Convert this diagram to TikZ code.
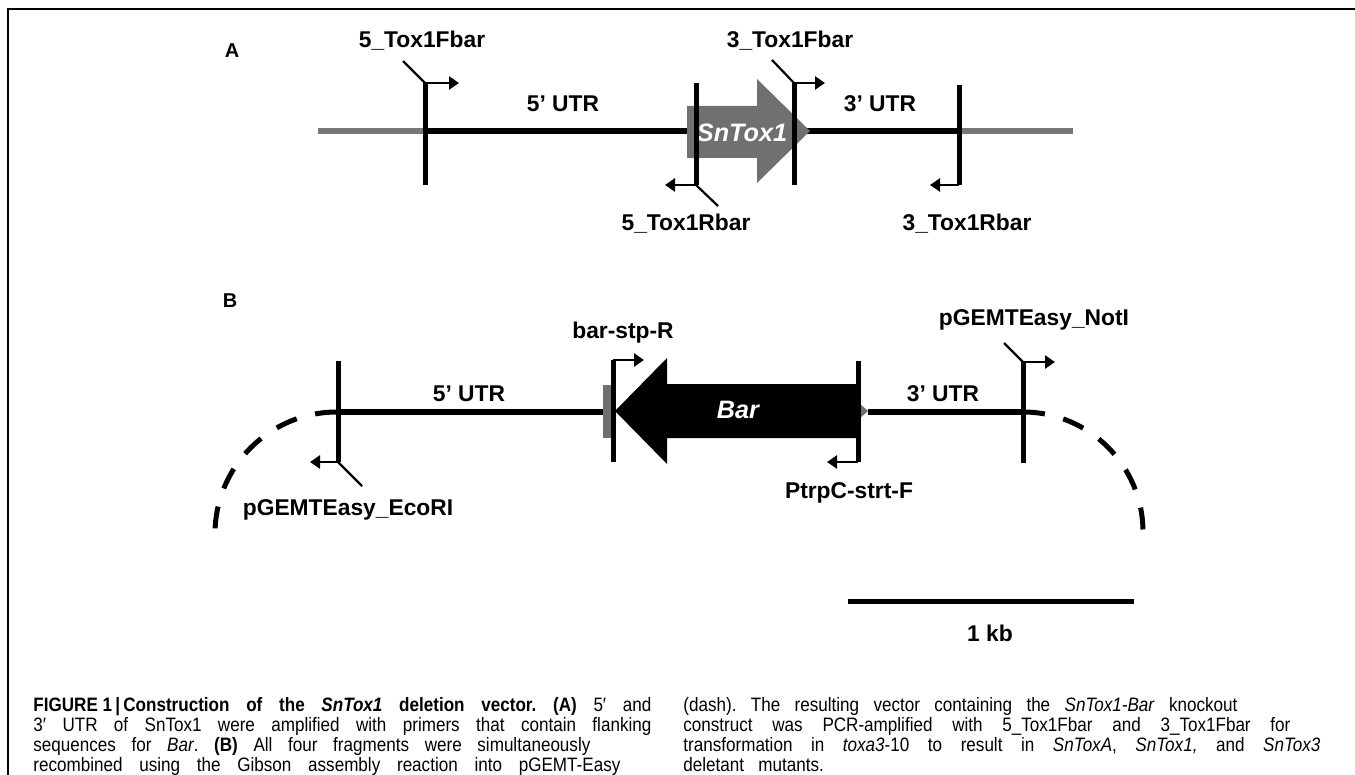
\documentclass[tikz,border=0pt]{standalone}
\usepackage{fontspec}
\setmainfont{Liberation Sans}
\newfontfamily\capfont[FakeStretch=0.88]{Liberation Sans}
\usetikzlibrary{arrows.meta}
\definecolor{geneGray}{RGB}{112,112,112}
\definecolor{flankGray}{RGB}{120,120,120}
\tikzset{
  mainline/.style={line width=2.6pt},
  tickline/.style={line width=2.5pt},
  primarrow/.style={line width=1.4pt,-{Triangle[length=5pt,width=6.5pt]}},
  tailline/.style={line width=1.1pt},
  lbl/.style={font=\bfseries\fontsize{11.4}{13}\selectfont, inner sep=0pt, anchor=base},
  panel/.style={font=\bfseries\fontsize{10}{12}\selectfont, inner sep=0pt, anchor=base},
  genelbl/.style={font=\bfseries\itshape\fontsize{12.6}{14}\selectfont, text=white, inner sep=0pt, anchor=base},
  capline/.style={anchor=base west, inner sep=0pt, font=\capfont\frenchspacing\fontsize{9.7}{12}\selectfont},
  plasmid/.style={line width=2.5pt, dash pattern=on 11pt off 9.5pt},
}
\begin{document}
\begin{tikzpicture}[x=0.5pt,y=-0.5pt]
\useasboundingbox (0,0) rectangle (1355,775);
% frame
\draw[line width=1.1pt] (8,780) -- (8,9) -- (1360,9);

% ================= Panel A =================
\node[panel] (pA) at (232,58) {A};
\coordinate (aL) at (318,131);
\coordinate (a5) at (425,131);
\coordinate (aG) at (687,131);
\coordinate (aGe) at (795,131);
\coordinate (a3) at (959,131);
\coordinate (aR) at (1073,131);
\draw[mainline, flankGray] (aL) -- (a5);
\draw[mainline, flankGray] (a3) -- (aR);
\draw[mainline] (a5) -- (aG);
\draw[mainline] (aGe) -- (a3);
% SnTox1 gene arrow
\fill[geneGray] (687,106) -- (757,106) -- (757,79) -- (810,131) -- (757,183) -- (757,158) -- (687,158) -- cycle;
\node[genelbl] (snt) at (742,142) {SnTox1};
% 5_Tox1Fbar
\coordinate (p1b) at (425,185);
\coordinate (p1t) at (425,83);
\coordinate (p1a) at (459,83);
\coordinate (p1d) at (403,61);
\draw[tickline] (p1b) -- (p1t);
\draw[primarrow] (p1t) -- (p1a);
\draw[tailline] (p1t) -- (p1d);
% 5_Tox1Rbar
\coordinate (p2t) at (696,83);
\coordinate (p2b) at (696,185);
\coordinate (p2a) at (665,185);
\coordinate (p2d) at (718,206);
\draw[tickline] (p2t) -- (p2b);
\draw[primarrow] (p2b) -- (p2a);
\draw[tailline] (p2b) -- (p2d);
% 3_Tox1Fbar
\coordinate (p3b) at (794,185);
\coordinate (p3t) at (794,83);
\coordinate (p3a) at (825,83);
\coordinate (p3d) at (772,60);
\draw[tickline] (p3b) -- (p3t);
\draw[primarrow] (p3t) -- (p3a);
\draw[tailline] (p3t) -- (p3d);
% 3_Tox1Rbar
\coordinate (p4t) at (959,85);
\coordinate (p4b) at (959,185);
\coordinate (p4a) at (930,185);
\draw[tickline] (p4t) -- (p4b);
\draw[primarrow] (p4b) -- (p4a);
% labels A
\node[lbl] (l5F) at (422,48) {5\_Tox1Fbar};
\node[lbl] (l3F) at (790,48) {3\_Tox1Fbar};
\node[lbl] (l5R) at (686,231) {5\_Tox1Rbar};
\node[lbl] (l3R) at (967,231) {3\_Tox1Rbar};
\node[lbl] (uA5) at (563,112) {5’ UTR};
\node[lbl] (uA3) at (880,112) {3’ UTR};

% ================= Panel B =================
\node[panel] (pB) at (230,307) {B};
\coordinate (bL) at (337,412);
\coordinate (bG) at (605,412);
\coordinate (bGe) at (868,412);
\coordinate (bR) at (1023,412);
\draw[mainline] (bL) -- (bG);
\draw[mainline] (bGe) -- (bR);
\draw[plasmid] (bL) arc[start angle=270, end angle=180, radius=122];
\draw[plasmid] (bR) arc[start angle=270, end angle=360, radius=120];
% grey terminator block and promoter tip
\fill[geneGray] (603,385) rectangle (611,438);
\fill[geneGray] (859,403) -- (868,411) -- (859,419) -- cycle;
% Bar arrow
\fill[black] (615,411) -- (667,358) -- (667,384) -- (859,384) -- (859,438) -- (667,438) -- (667,464) -- cycle;
\node[genelbl] (bar) at (738,418) {Bar};
% pGEMTEasy_EcoRI
\coordinate (q1t) at (338,361);
\coordinate (q1b) at (338,462);
\coordinate (q1a) at (310,462);
\coordinate (q1d) at (362,486);
\draw[tickline] (q1t) -- (q1b);
\draw[primarrow] (q1b) -- (q1a);
\draw[tailline] (q1b) -- (q1d);
% bar-stp-R
\coordinate (q2b) at (613,462);
\coordinate (q2t) at (613,360);
\coordinate (q2a) at (644,360);
\draw[tickline] (q2b) -- (q2t);
\draw[primarrow] (q2t) -- (q2a);
% PtrpC-strt-F
\coordinate (q3t) at (858,361);
\coordinate (q3b) at (858,462);
\coordinate (q3a) at (827,462);
\draw[tickline] (q3t) -- (q3b);
\draw[primarrow] (q3b) -- (q3a);
% pGEMTEasy_NotI
\coordinate (q4b) at (1023,463);
\coordinate (q4t) at (1023,362);
\coordinate (q4a) at (1055,362);
\coordinate (q4d) at (1004,343);
\draw[tickline] (q4b) -- (q4t);
\draw[primarrow] (q4t) -- (q4a);
\draw[tailline] (q4t) -- (q4d);
% labels B
\node[lbl] (lEco) at (348,515) {pGEMTEasy\_EcoRI};
\node[lbl] (lbsr) at (623,338) {bar-stp-R};
\node[lbl] (lptr) at (849,498) {PtrpC-strt-F};
\node[lbl] (lNot) at (1034,326) {pGEMTEasy\_NotI};
\node[lbl] (uB5) at (469,401) {5’ UTR};
\node[lbl] (uB3) at (943,401) {3’ UTR};

% scale bar
\coordinate (s1) at (848,601);
\coordinate (s2) at (1134,601);
\draw[line width=2.5pt] (s1) -- (s2);
\node[lbl] (kb) at (990,641) {1 kb};

% ================= Caption =================
\node[capline] (c1) at (33,711) {\makebox[309pt][s]{\textbf{\mbox{FIGURE 1\,|\,Construction} of the \textit{SnTox1} deletion vector. (A)} 5′ and}};
\node[capline] (c2) at (33,731) {\makebox[309pt][s]{3′ UTR of SnTox1 were amplified with primers that contain flanking}};
\node[capline] (c3) at (33,751) {\makebox[278.5pt][s]{sequences for \textit{Bar}. \textbf{(B)} All four fragments were simultaneously}};
\node[capline] (c4) at (33,771) {\makebox[293.5pt][s]{recombined using the Gibson assembly reaction into pGEMT-Easy}};
\node[capline] (d1) at (683,711) {\makebox[277pt][s]{(dash). The resulting vector containing the \textit{SnTox1-Bar} knockout}};
\node[capline] (d2) at (683,731) {\makebox[303.5pt][s]{construct was PCR-amplified with 5\_Tox1Fbar and 3\_Tox1Fbar for}};
\node[capline] (d3) at (683,751) {\makebox[318.5pt][s]{transformation in \textit{toxa3}-10 to result in \textit{SnToxA}, \textit{SnTox1,} and \textit{SnTox3}}};
\node[capline] (d4) at (683,771) {deletant\ \ \ mutants.};
\end{tikzpicture}
\end{document}
